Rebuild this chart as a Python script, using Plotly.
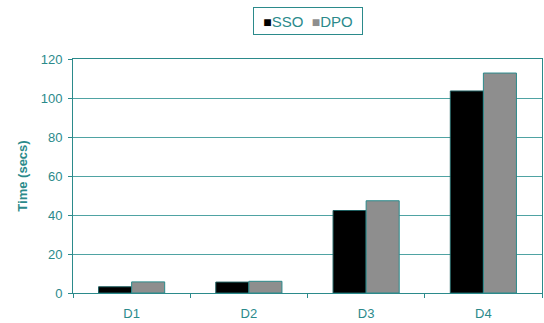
import plotly.graph_objects as go

# Run times per data set
datasets = ["D1", "D2", "D3", "D4"]
sso_times = [3.2, 5.6, 42.3, 103.6]
dpo_times = [5.7, 6.0, 47.3, 112.8]
y_ticks = [0, 20, 40, 60, 80, 100, 120]

ink = "#2b8a8b"
grid = "#4fa3a3"
sso_color = "#000000"
dpo_color = "#8e8e8e"

fig = go.Figure()
fig.add_trace(go.Bar(name="SSO", x=datasets, y=sso_times,
                     marker=dict(color=sso_color, line=dict(color="#1f5f60", width=1))))
fig.add_trace(go.Bar(name="DPO", x=datasets, y=dpo_times,
                     marker=dict(color=dpo_color, line=dict(color=ink, width=1))))

# Compact boxed key above the plot
key_text = (
    f"<span style='color:{sso_color};font-size:14px'>■</span>SSO&nbsp;&nbsp;"
    f"<span style='color:{dpo_color};font-size:14px'>■</span>DPO"
)
fig.add_annotation(
    text=key_text, xref="paper", yref="paper", x=0.5, y=1.222,
    xanchor="center", yanchor="top", showarrow=False, width=100, height=18,
    font=dict(size=15, color=ink), bordercolor=ink, borderwidth=1, borderpad=4,
    bgcolor="white",
)

fig.update_layout(
    width=544, height=323,
    margin=dict(l=73, r=2, t=59, b=30),
    paper_bgcolor="white", plot_bgcolor="white",
    barmode="group", bargap=0.436, bargroupgap=0,
    font=dict(family="Liberation Sans, Arial, sans-serif", size=13, color=ink),
    showlegend=False,
)
fig.update_xaxes(
    showline=True, linecolor=ink, linewidth=1, mirror=True,
    ticks="outside", tickson="boundaries", ticklen=4, tickcolor=ink,
    showgrid=False, tickfont=dict(size=13, color=ink), ticklabelstandoff=8,
)
fig.update_yaxes(
    range=[0, 120], tickvals=y_ticks, showline=True, linecolor=ink, linewidth=1,
    mirror=True, ticks="outside", ticklen=4, tickcolor=ink,
    showgrid=True, gridcolor=grid, gridwidth=1, zeroline=False,
    tickfont=dict(size=13, color=ink), ticklabelstandoff=3,
    title=dict(text="<b>Time (secs)</b>", font=dict(size=13, color=ink), standoff=10),
)

fig.write_html("out.html")
